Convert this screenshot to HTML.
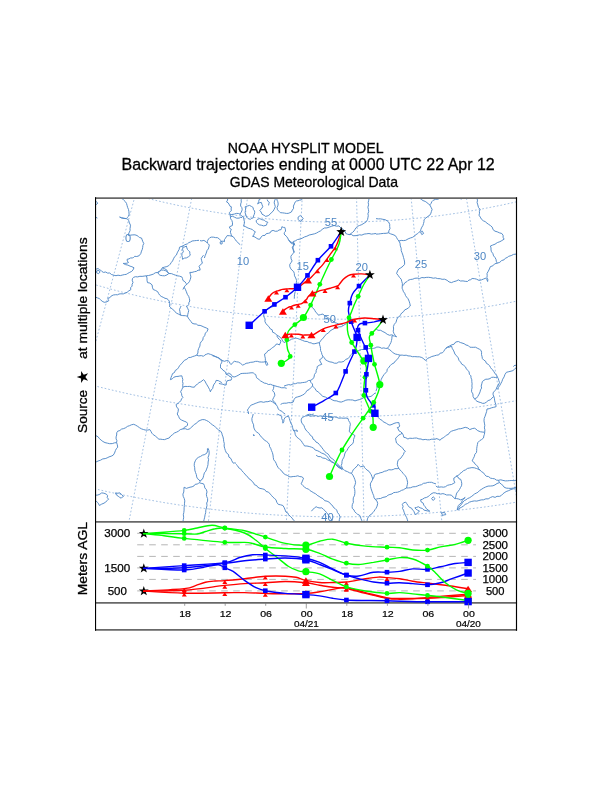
<!DOCTYPE html>
<html><head><meta charset="utf-8"><title>NOAA HYSPLIT MODEL</title>
<style>html,body{margin:0;padding:0;background:#fff}svg{display:block}text{font-family:"Liberation Sans","DejaVu Sans",sans-serif}</style></head><body>
<svg width="612" height="792" viewBox="0 0 612 792">
<rect width="612" height="792" fill="#fff"/>
<g fill="#000" text-anchor="middle" stroke="#000" stroke-width="0.3">
<text x="305.65" y="152.6" font-size="14.6" textLength="155.7" lengthAdjust="spacingAndGlyphs">NOAA HYSPLIT MODEL</text>
<text x="308.15" y="170.3" font-size="16.7" textLength="373.2" lengthAdjust="spacingAndGlyphs">Backward trajectories ending at 0000 UTC 22 Apr 12</text>
<text x="313.9" y="187" font-size="14.3" textLength="168.2" lengthAdjust="spacingAndGlyphs">GDAS Meteorological Data</text>
</g>
<defs><clipPath id="mc"><rect x="96" y="198" width="420.5" height="324"/></clipPath><clipPath id="pc"><rect x="96" y="522.8" width="420.5" height="86"/></clipPath></defs>
<g clip-path="url(#mc)">
<!--MAP-->
<g fill="none" stroke="#6b9bd1" stroke-width="0.62" stroke-dasharray="1.7 2">
<path d="M62.5 81.5L-135.2 540.8"/>
<path d="M109.1 99.7L-55.1 571.9"/>
<path d="M157.0 114.4L26.9 597.2"/>
<path d="M205.8 125.7L110.5 616.6"/>
<path d="M255.2 133.5L195.3 629.9"/>
<path d="M305.1 137.7L280.8 637.1"/>
<path d="M355.2 138.4L366.7 638.2"/>
<path d="M405.2 135.4L452.4 633.2"/>
<path d="M454.8 128.9L537.5 622.0"/>
<path d="M503.9 118.9L621.6 604.8"/>
<path d="M552.1 105.4L704.2 581.7"/>
<path d="M9.0 149.2L19.2 153.8L29.4 158.3L39.8 162.7L50.2 166.9L60.6 170.9L71.1 174.9L81.7 178.6L92.3 182.2L103.0 185.7L113.7 189.0L124.4 192.1L135.2 195.1L146.1 198.0L157.0 200.7L167.9 203.2L178.9 205.6L189.9 207.8L200.9 209.8L211.9 211.7L223.0 213.5L234.1 215.0L245.2 216.5L256.4 217.7L267.5 218.8L278.7 219.8L289.9 220.6L301.1 221.2L312.3 221.7L323.5 222.0L334.7 222.1L345.9 222.1L357.1 221.9L368.3 221.6L379.5 221.1L390.7 220.4L401.9 219.6L413.1 218.6L424.2 217.5L435.4 216.2L446.5 214.7L457.6 213.1L468.7 211.3L479.7 209.4L490.7 207.3L501.7 205.1L512.6 202.7L523.6 200.1L534.4 197.4L545.3 194.5L556.1 191.5L566.8 188.3L577.5 185.0L588.2 181.5L598.8 177.9L609.3 174.1L619.8 170.1L630.3 166.0"/>
<path d="M-32.0 237.2L-20.5 242.5L-9.0 247.5L2.7 252.4L14.3 257.2L26.1 261.7L37.9 266.1L49.8 270.3L61.7 274.4L73.7 278.3L85.7 282.0L97.8 285.5L110.0 288.9L122.2 292.1L134.4 295.1L146.7 298.0L159.0 300.6L171.3 303.1L183.7 305.4L196.2 307.6L208.6 309.5L221.1 311.3L233.6 312.9L246.1 314.3L258.6 315.6L271.2 316.6L283.8 317.5L296.4 318.2L308.9 318.7L321.5 319.1L334.1 319.2L346.7 319.2L359.3 319.0L371.9 318.6L384.5 318.1L397.1 317.3L409.7 316.4L422.2 315.3L434.8 314.0L447.3 312.6L459.8 310.9L472.3 309.1L484.7 307.1L497.1 305.0L509.5 302.6L521.8 300.1L534.2 297.4L546.4 294.5L558.6 291.5L570.8 288.2L583.0 284.8L595.0 281.3L607.1 277.5L619.1 273.6L631.0 269.5L642.8 265.2L654.6 260.8L666.4 256.2"/>
<path d="M-73.1 325.7L-60.3 331.5L-47.5 337.2L-34.6 342.6L-21.6 347.9L-8.6 352.9L4.5 357.8L17.7 362.5L31.0 367.0L44.3 371.3L57.7 375.4L71.1 379.4L84.6 383.1L98.1 386.7L111.7 390.0L125.4 393.2L139.0 396.1L152.8 398.9L166.5 401.5L180.3 403.8L194.1 406.0L208.0 408.0L221.9 409.8L235.8 411.3L249.7 412.7L263.7 413.9L277.6 414.9L291.6 415.7L305.6 416.2L319.6 416.6L333.6 416.8L347.6 416.8L361.6 416.6L375.6 416.1L389.6 415.5L403.5 414.7L417.5 413.7L431.4 412.5L445.4 411.0L459.3 409.4L473.2 407.6L487.0 405.6L500.8 403.4L514.6 401.0L528.4 398.3L542.1 395.5L555.8 392.5L569.4 389.3L583.0 386.0L596.5 382.4L610.0 378.6L623.4 374.6L636.8 370.5L650.1 366.1L663.3 361.6L676.5 356.8L689.6 351.9L702.6 346.8"/>
<path d="M-115.2 416.5L-101.2 422.9L-87.1 429.1L-72.8 435.1L-58.5 440.8L-44.2 446.4L-29.7 451.8L-15.2 457.0L-0.6 462.0L14.1 466.7L28.9 471.3L43.7 475.6L58.5 479.7L73.5 483.6L88.5 487.3L103.5 490.8L118.6 494.1L133.7 497.1L148.9 499.9L164.1 502.6L179.3 505.0L194.6 507.1L209.9 509.1L225.2 510.8L240.6 512.4L256.0 513.7L271.3 514.7L286.8 515.6L302.2 516.2L317.6 516.7L333.0 516.8L348.5 516.8L363.9 516.6L379.3 516.1L394.7 515.4L410.1 514.5L425.5 513.4L440.9 512.1L456.2 510.5L471.6 508.7L486.9 506.7L502.1 504.5L517.4 502.0L532.6 499.4L547.7 496.5L562.8 493.4L577.9 490.1L592.9 486.6L607.9 482.8L622.8 478.9L637.7 474.7L652.5 470.3L667.2 465.8L681.9 461.0L696.5 455.9L711.0 450.7L725.4 445.3L739.8 439.7"/>
</g>
<g fill="none" stroke="#5189c7" stroke-width="0.95" stroke-linejoin="round">
<path d="M121.6 198.0L122.8 199.1L123.9 200.3L125.4 201.7L126.5 203.4L127.1 205.5L127.6 207.4L128.5 209.5L128.9 211.7L129.1 214.2L128.5 216.3L127.2 217.6L126.2 218.6L124.0 218.5L121.5 217.8L119.6 217.0L121.6 217.9L123.9 218.2L126.2 218.6L127.6 219.1L128.7 220.6L129.4 222.9L130.5 225.2L130.3 226.9L130.0 228.6L130.1 230.5L129.0 232.9L128.0 235.1L129.3 235.5L130.8 235.1L132.8 234.9L134.9 234.8L137.0 235.5L138.5 236.6L139.7 237.6L141.5 238.0L142.2 239.9L142.9 241.8L143.8 243.5L142.9 245.4L142.7 247.4L142.3 249.3L141.5 251.1L140.8 253.5L139.2 255.7L136.8 256.5L134.7 256.3L133.7 257.4L132.4 257.9L130.4 258.0L129.0 258.9L127.1 259.3L127.3 261.0L128.5 262.5L126.9 263.2L124.9 263.4L123.2 263.4L125.5 264.6L127.9 265.1L130.1 266.2L131.9 266.7L134.0 267.8L133.0 269.9L131.7 271.4L129.8 272.3L127.8 273.4L126.2 274.4L124.3 274.6L122.2 275.1L120.3 275.6L118.0 275.2L116.0 275.7L114.1 275.3L111.5 274.5L109.7 273.0L107.6 273.1L105.7 272.0L103.5 272.4L101.8 271.4L100.6 270.1L99.3 269.8L98.3 268.5L96.0 269.2"/>
<path d="M96.7 270.8L99.0 270.5L100.1 272.1L98.3 273.7L96.5 272.6L96.7 270.8"/>
<path d="M96.0 201.4L97.8 203.0L96.0 204.9"/>
<path d="M96.0 217.4L97.4 218.1"/>
<path d="M96.0 297.3L97.5 297.9L99.2 298.5L100.6 299.8L102.1 301.2L104.2 302.3L106.7 301.9L108.8 300.7L108.2 299.5L107.9 298.2L109.9 297.7L111.1 296.1L113.3 295.0L115.7 294.7L117.5 294.8L119.0 294.0L120.9 293.8L123.3 293.9L125.2 293.0L127.1 292.3L128.9 290.8L130.8 289.7L130.6 287.7L132.1 286.1L132.1 284.3L133.0 282.5L132.2 280.2L132.6 278.3L133.7 277.3L135.4 276.7L137.7 276.9L139.9 276.3L142.1 276.4L144.1 276.1L146.3 275.8L148.6 275.5L151.0 274.9L153.4 274.1L155.2 272.8L157.8 272.4L159.4 271.2L161.3 269.6L162.3 267.8L164.5 267.1L166.9 266.6L168.8 265.6L170.1 264.3L171.3 262.5L172.6 260.9L173.5 258.8L174.7 256.6L176.4 255.1L177.2 252.9L178.2 251.0L179.2 249.3L179.5 247.2L181.0 246.6L182.9 246.0L184.9 244.7L187.5 243.8L188.8 242.6L190.5 242.0L192.1 241.0L194.5 240.7L196.6 240.5L199.0 240.3"/>
<path d="M182.9 247.2L184.8 246.9L186.4 246.0L186.8 247.8L187.5 249.5L188.6 250.7L189.8 251.8L189.8 253.5L190.3 255.2L188.5 256.7L186.4 257.9L184.5 258.1L182.5 259.3L182.4 257.4L181.8 255.2L182.1 253.3L183.4 251.8L182.6 249.4L182.9 247.2"/>
<path d="M157.8 272.4L159.7 271.5L161.2 270.1L163.6 270.1L165.8 270.8L167.7 272.0L168.8 273.5L167.0 274.9L164.6 275.8L162.5 275.7L160.1 275.3L158.6 274.1L157.8 272.4"/>
<path d="M162.3 267.8L164.6 268.7L166.9 270.1L167.4 271.9L168.8 273.5"/>
<path d="M203.5 255.2L202.2 256.9L201.2 258.6L201.7 260.8L202.4 263.2L200.4 264.7L199.0 266.6L199.8 268.0L200.1 270.1L198.0 270.2L196.5 271.3L194.4 271.7L192.0 272.4L189.8 272.4L190.4 274.5L190.9 276.9L190.3 279.4L189.3 281.8L187.5 283.8L185.4 285.4L184.1 287.2L182.9 289.5"/>
<path d="M168.8 273.5L171.5 273.6L173.8 274.6L175.6 275.2L177.2 275.8L179.4 276.1L181.8 276.9L182.5 278.4L182.9 280.4L184.9 281.7L186.4 283.8"/>
<path d="M146.3 275.8L147.0 278.0L147.0 280.3L147.5 282.6L149.9 283.1L152.1 284.9L152.4 287.2L153.2 289.5L155.7 290.5L157.8 291.8L158.6 293.5L159.7 295.1L161.2 296.4L163.2 297.3L165.0 298.3L166.9 298.7L168.1 299.6L169.2 301.0L169.7 303.5L169.7 306.0"/>
<path d="M184.1 287.2L185.3 289.2L186.4 291.8L187.3 294.3L188.7 296.4L189.4 298.5L189.8 301.0L188.9 302.6L188.7 304.6L187.5 306.0"/>
<path d="M293.2 241.5L295.3 240.9L297.5 239.5L299.8 239.2L302.2 238.2L304.6 236.9L306.9 236.2L309.2 235.0L312.0 234.4L314.5 233.8L316.6 233.0L318.6 231.8L320.5 230.9L322.2 229.4L324.3 228.0L326.9 227.9L329.2 227.1L331.8 226.2L334.1 225.5L336.5 226.2L339.0 225.9L339.9 227.0L341.0 228.0L342.4 228.5L343.5 230.0L345.2 231.5L345.8 233.5L347.5 234.2L349.2 234.6L350.8 233.6L352.7 232.3L354.0 231.0L354.9 229.5L356.1 227.7L357.5 226.3L359.5 225.5L361.8 224.6L364.1 223.2L366.2 221.8L367.5 219.7L367.9 217.8L368.3 215.6L367.9 213.8L368.7 211.7L368.4 209.3L367.9 207.2L368.6 204.8L368.2 202.6L368.7 200.3L369.2 198.0"/>
<path d="M349.2 234.6L351.4 234.5L353.1 235.7L355.0 235.7L357.4 235.5L359.4 234.8L361.8 235.1L364.1 234.1L366.5 233.8L369.0 233.5L371.4 234.1L373.7 233.8L376.0 233.5"/>
<path d="M293.2 241.5L294.3 243.8L293.6 245.8L292.1 247.2L293.2 249.3L294.3 251.8L293.5 253.2L292.0 254.5L290.9 256.3L291.1 258.9L292.1 260.9L291.0 262.7L289.8 264.3L289.8 266.7L290.9 268.9L292.0 270.2L293.7 271.6L294.3 273.5L294.5 275.8L295.7 278.0L296.6 280.4L296.3 282.8L296.6 284.9L296.1 287.4L295.5 289.5L295.2 291.6L294.6 294.2L294.4 296.2L294.3 298.7"/>
<path d="M242.2 198.0L241.1 199.8L241.3 202.1L240.7 203.9L240.6 206.0L241.9 207.7L242.2 209.8L241.3 212.0L240.0 214.2L241.5 215.9L243.6 217.1L243.8 219.4L244.4 221.5L244.3 223.6L243.6 225.9L245.8 226.8L248.1 228.1L250.4 228.8L252.5 229.6L253.7 230.9L255.4 231.8L254.4 233.2L253.8 235.2L252.5 236.2L254.9 237.0L256.9 238.4L258.1 239.1L259.8 239.2L261.0 237.1L262.8 235.5L265.0 235.4L266.3 233.6L268.6 233.3L270.3 232.7L271.2 231.0L273.1 230.4L275.3 231.3L277.5 231.1L279.0 230.0L281.1 229.6L281.6 228.3L281.9 226.7L283.4 227.4L284.8 227.4L285.3 229.1L285.6 231.1L284.4 232.6L284.1 234.0L285.0 235.1L286.3 236.2L287.7 238.0L288.5 239.9L289.7 240.7L290.7 242.1L292.1 242.5L293.6 242.9"/>
<path d="M245.1 206.8L247.2 206.1L249.5 205.4L251.6 206.5L253.2 207.6L253.3 209.3L254.6 211.0L254.7 212.7L254.2 214.5L253.5 216.0L253.2 217.9L251.8 218.3L250.3 219.3L248.1 218.6L246.6 217.1L245.9 215.0L245.1 212.7L245.4 210.6L245.6 208.9L245.1 206.8"/>
<path d="M261.3 198.0L260.2 199.1L259.1 199.5L258.7 201.7L257.6 203.9L259.2 202.8L261.3 202.4L262.0 204.5L262.8 206.8L261.3 208.9L259.8 210.5L261.1 212.0L262.0 214.2L264.1 215.3L265.7 216.4L268.2 215.7L270.1 214.2L271.3 212.7L273.1 211.2L274.2 209.2L275.3 206.8L274.8 204.8L274.2 202.9L274.5 200.9L275.3 199.2L276.0 198.0"/>
<path d="M267.2 199.5L267.8 201.2L269.4 202.4L268.8 203.8L268.6 205.4"/>
<path d="M256.1 220.8L257.7 219.2L259.8 218.6L261.8 219.7L264.2 220.1L265.7 221.5L267.9 222.3L267.0 223.4L266.4 225.2L263.7 225.9L261.3 225.2L259.5 224.9L257.6 223.7L256.6 222.5L256.1 220.8"/>
<path d="M276.7 198.0L277.0 200.1L277.8 201.7L278.2 203.9L277.8 205.9L277.0 207.6L277.5 209.8L279.1 211.4L280.4 212.7L282.3 212.8L284.5 213.1L286.3 213.4L288.2 213.4L289.9 212.7L291.4 212.0L292.3 210.1L293.6 208.3L293.4 206.1L294.4 203.9L295.1 202.1L296.6 200.9L298.0 200.8L299.5 200.2L301.4 199.8L302.5 198.7L303.7 197.9L305.4 198.0"/>
<path d="M298.1 217.1L299.3 216.3L300.3 215.4L301.9 217.0L303.2 218.6L302.0 220.0L301.0 221.5L299.4 220.7L298.1 219.3L298.1 217.1"/>
<path d="M288.5 239.9L289.9 241.9L291.4 243.6L293.3 243.9L295.1 245.1L294.2 244.2L293.6 242.9"/>
<path d="M293.6 242.9L293.4 245.7L292.9 248.0L293.3 250.3L293.9 252.4"/>
<path d="M240.0 214.2L238.4 213.5L236.3 213.4L234.2 214.1L231.9 214.5L229.7 214.9"/>
<path d="M200.0 240.6L201.8 240.9L203.9 240.4L205.9 241.6L207.4 243.1L208.5 244.0L209.3 245.1L208.9 246.9L208.3 249.0L207.1 250.3L206.6 252.0L205.9 253.9L205.1 255.8L204.4 258.0"/>
<path d="M207.4 243.1L207.3 241.5L207.8 240.2L208.7 238.8L209.8 237.7L211.5 237.1L213.7 237.2L215.5 237.6L217.6 237.7L219.6 239.2L220.7 240.3L221.1 241.6L223.0 241.1L224.5 241.6L224.4 239.7L225.5 238.2L226.3 236.8L227.0 235.7L229.4 235.7L231.9 236.2L233.4 236.9L234.3 238.2L235.4 239.7L236.3 241.1L237.7 242.2L238.7 243.6L240.2 244.6"/>
<path d="M231.9 236.2L231.2 234.5L230.4 232.3L230.6 230.9L231.4 229.4L229.9 228.5L229.4 226.9L231.0 226.1L232.4 225.5L232.5 222.8L231.9 220.5L230.6 218.8L230.4 216.6L230.2 214.6L229.4 212.7L230.3 211.5L231.4 210.7L231.1 209.0L231.4 206.8L230.1 206.3L229.4 204.9L228.2 202.9L226.5 201.9L227.6 200.1L227.5 198.0"/>
<path d="M220.1 242.1L221.1 241.6L222.4 242.6L221.8 244.1L220.4 243.9L220.1 242.1"/>
<path d="M230.4 216.6L232.6 216.3L234.3 217.1L236.7 218.2L239.2 218.1L240.7 217.4L242.2 217.6"/>
<path d="M376.0 218.6L378.4 218.9L380.5 218.8L382.8 219.3L385.2 219.7L387.1 220.8L388.6 222.0L389.7 224.3L389.7 226.6L390.0 228.6L388.9 230.7L388.6 232.8L386.1 233.3L383.6 233.4L380.8 233.7L378.4 234.0L376.0 234.1"/>
<path d="M388.6 232.8L390.7 233.9L393.0 234.6L395.4 235.7L396.5 237.4L397.5 239.3L398.9 241.0"/>
<path d="M398.9 241.0L401.2 240.4L403.3 240.6L405.7 240.3L408.1 238.9L410.3 238.0L412.6 237.3L414.2 236.2L416.0 234.6L417.7 233.6L419.0 232.2L420.6 231.2L420.9 229.2L421.9 227.1L422.9 225.5L423.5 223.6L424.0 221.6L424.0 219.7L425.9 218.0L427.5 216.6L429.8 215.2L430.9 213.2L431.4 211.5L432.1 209.4L431.0 207.2L429.8 204.9L431.0 203.5L431.9 201.6L433.2 200.3L435.6 199.3L438.0 199.2L440.1 198.0"/>
<path d="M419.5 198.0L421.2 199.3L423.0 200.6L425.2 201.4L426.9 202.6L428.2 203.7L429.8 204.9"/>
<path d="M420.6 232.3L422.4 231.2L423.6 233.5L421.8 234.6L420.6 232.3"/>
<path d="M398.9 241.0L400.0 243.1L400.3 245.9L401.2 248.3L401.2 250.6L402.0 252.7L402.9 255.1L403.5 257.5L404.2 259.8L404.6 262.0L404.6 264.3L403.1 266.1L400.9 267.8L398.9 268.9L397.5 271.0L396.6 273.5L398.1 275.3L399.5 277.4L401.2 279.2L401.8 281.6L402.4 283.6L402.3 286.1"/>
<path d="M402.3 286.1L403.7 284.6L404.9 282.7L406.8 281.7L408.0 280.4L410.3 279.5L412.8 279.2L414.8 278.3L417.2 278.1L419.6 278.5L421.9 277.5L424.1 277.8L426.2 277.4L428.5 277.3L430.9 277.6L433.3 278.2L435.5 277.9L437.7 278.6L440.2 278.7L442.1 279.3L444.6 279.2L447.1 280.3L449.0 281.9L451.5 282.6L453.6 281.7L456.2 281.0L458.4 279.9L460.5 281.0L463.0 280.9L465.2 281.3L467.5 281.5L468.9 280.1L470.7 279.7L472.1 278.5L474.7 278.7L476.6 279.2L479.0 280.4L481.4 279.9L483.4 279.1L485.8 278.1L487.0 279.8L487.6 281.5"/>
<path d="M402.3 286.1L402.1 288.2L402.8 289.8L403.5 291.8L404.7 293.2L405.5 295.5L406.6 297.1L408.0 298.7L409.1 301.1L409.8 303.4L410.3 306.0"/>
<path d="M476.7 198.0L477.5 200.1L477.1 202.5L477.8 204.9L478.5 207.5L480.1 209.4L479.4 211.3L479.5 213.2L479.0 215.2L480.3 217.1L481.5 219.3L483.5 220.9L485.2 221.6L487.0 223.2L488.7 224.4L490.4 225.5L492.2 227.1L493.1 229.7L495.0 231.2L497.2 231.8L499.4 232.8L501.8 233.5L503.1 235.3L503.1 237.3L504.1 239.2L501.8 240.6L499.9 241.7L497.3 242.6L495.0 244.2L492.6 245.1L490.4 246.0L491.0 247.9L491.0 250.0L491.5 251.8L492.8 253.4L493.6 255.9L495.0 257.5L496.0 259.4L496.3 261.3L497.3 263.2L494.7 263.8L492.9 265.8L490.4 266.6L489.4 269.0L488.3 271.2L487.0 273.5L487.2 275.7L486.9 277.7L487.9 279.7L487.6 281.5"/>
<path d="M497.3 263.2L499.8 262.3L501.7 260.5L504.1 259.8L505.4 258.2L507.2 257.5L508.7 256.3L511.2 255.6L513.5 254.4L516.0 254.1"/>
<path d="M459.5 198.0L461.1 199.1L462.9 198.0"/>
<path d="M169.2 306.0L170.6 307.6L172.1 308.9L173.8 310.2L174.9 311.7L176.8 313.3L178.7 314.2L180.6 315.2L180.1 313.1L179.9 311.4L179.5 309.4L180.3 307.7L181.1 306.0"/>
<path d="M186.4 306.0L187.6 308.2L188.7 310.6L188.3 312.3L187.8 314.3L187.5 316.3L185.4 315.7L182.8 315.6L180.6 315.2"/>
<path d="M187.5 316.3L188.3 318.1L189.7 319.9L191.0 321.6L192.1 323.2L194.0 323.9L196.3 324.0L197.9 325.3L200.1 325.4L202.0 326.1L203.9 327.0L206.2 327.9L208.1 328.9L207.1 331.4L205.4 333.1L204.7 335.7L203.2 337.5L202.8 340.1L201.1 341.7L200.1 343.7L199.9 346.1L198.7 348.4L198.0 350.6L197.9 353.0L196.7 355.2"/>
<path d="M196.7 355.2L198.8 355.9L201.3 355.6L203.5 356.3L204.9 354.9L206.4 354.3L208.1 353.6L210.5 354.4L212.7 355.2L215.2 356.3L217.3 357.5L219.3 358.2L220.3 359.9L222.3 360.4"/>
<path d="M221.8 382.6L219.8 381.5L218.3 380.6L216.1 380.4L215.5 382.4L214.1 384.1L213.2 386.1L212.7 388.4L211.2 390.0L210.4 391.8L209.6 389.5L208.3 387.1L207.0 384.9L205.9 383.1L205.0 381.1L203.5 379.7L202.0 380.9L200.7 381.9L199.0 382.6L197.4 384.2L195.4 385.5L194.4 387.2L192.1 387.1L189.8 386.4L187.5 386.5L185.0 386.4L182.9 387.2L182.7 385.3L183.0 383.3L182.5 381.5L182.8 379.5L182.3 377.7L181.8 375.8L179.8 376.0L178.0 376.4L176.1 376.5L173.9 377.2L172.3 378.8L170.4 379.7L171.0 377.5L171.8 375.6L172.6 373.5L174.5 372.5L175.3 370.4L177.1 369.4L178.4 367.8L179.6 365.7L181.3 363.9L182.9 362.1L184.4 360.3L186.9 359.2L188.7 357.5L190.8 357.4L192.8 356.5L194.6 356.0L196.7 355.2"/>
<path d="M182.9 387.2L181.9 389.4L180.6 391.8L181.6 393.7L181.8 395.7L182.9 397.5L181.6 398.8L180.8 400.7L179.5 402.1L177.9 403.5L176.1 404.4L176.6 406.9L178.4 409.0L178.1 411.7L177.2 414.0"/>
<path d="M263.5 315.2L264.1 317.2L265.1 319.0L264.9 321.3L265.7 323.2L267.2 325.1L268.9 326.6L270.3 328.9L272.2 329.8L272.6 332.2L274.7 333.0L276.0 334.6L278.2 335.8L280.3 337.3L281.8 339.2L282.7 340.9L284.0 342.6"/>
<path d="M263.5 315.2L264.6 312.9L265.3 310.6L267.1 310.0L268.6 308.3L270.3 307.1L272.4 306.8L274.2 306.0L276.0 306.0"/>
<path d="M311.5 306.0L312.3 307.6L313.9 308.9L314.9 310.6L315.8 312.3L317.4 313.6L318.4 315.2L320.6 314.6L322.9 314.0L324.3 315.6L325.9 316.3L327.5 317.4L329.4 318.7L331.3 320.0L332.9 320.9L334.6 322.5L336.7 323.2L339.1 324.2L341.1 324.4L343.5 325.4L345.0 324.4L346.6 323.6L348.1 322.0L350.2 320.6L351.5 318.6"/>
<path d="M284.0 342.6L286.0 341.7L288.1 341.2L289.8 340.3L291.5 339.2L293.6 338.7L295.5 338.0L297.9 338.6L300.0 339.4L302.3 340.3L304.7 341.3L307.2 341.5L309.2 342.6L311.2 342.9L312.9 343.8L314.9 343.7L317.1 343.1L319.5 342.6"/>
<path d="M319.5 342.6L320.8 340.4L322.6 338.8L324.1 336.9L325.1 335.4L326.7 334.0L328.5 332.9L329.8 331.2L332.0 329.7L334.3 328.6L336.7 327.7L339.0 326.9L341.3 326.7L343.5 325.4"/>
<path d="M319.5 342.6L319.6 344.8L320.2 346.5L320.5 348.4L320.6 350.6L321.5 352.5L321.9 354.4L322.9 356.3L324.3 357.8L325.5 359.8L327.5 360.9L329.9 361.9L332.1 362.2L334.4 363.2L336.9 363.2L338.8 361.9L341.2 362.1L343.9 361.4L345.7 359.4L348.1 358.6L349.6 356.8L350.4 355.2L351.8 353.9L353.5 353.1L355.0 351.8L357.2 351.4L359.3 350.3L361.6 349.5L364.1 349.5L366.3 349.4L368.6 348.6L371.4 348.2L373.6 348.4L376.0 347.6"/>
<path d="M322.9 356.3L321.7 358.5L319.5 359.8L320.5 362.1L321.8 364.3L319.3 365.2L317.2 366.6L317.1 368.4L316.2 370.3L316.1 372.3L314.5 374.4L314.0 377.2L312.6 379.2L310.4 380.4"/>
<path d="M284.0 386.1L286.2 385.3L288.7 384.6L290.9 385.0L293.2 383.8L295.4 383.7L297.6 382.9L300.2 383.0L302.3 382.6L304.3 382.4L306.3 382.0L308.5 380.5L310.4 380.4"/>
<path d="M310.4 380.4L310.7 382.2L312.5 384.0L312.6 386.1L314.0 387.6L315.2 388.8L316.1 390.6L318.1 391.9L319.6 393.1L321.1 394.9L322.9 396.4L325.4 397.0L327.4 398.3L330.1 398.5L332.1 399.8L334.1 400.7L336.8 400.9L338.8 401.7L341.2 402.1L343.7 401.2L345.8 400.2L348.1 399.8L350.4 399.9L352.8 400.0L355.0 400.9L357.1 400.2L359.8 399.5L361.9 398.7L364.1 397.5L366.5 396.8L368.7 396.8L371.0 396.4L372.5 395.4L374.0 393.7L376.0 392.9"/>
<path d="M273.7 384.9L273.8 386.7L273.5 388.7L272.6 390.6L274.3 392.7L274.9 395.2L273.8 397.3L272.6 399.8L273.5 401.4L275.2 402.6L276.0 404.4"/>
<path d="M312.6 386.1L310.7 387.7L309.1 389.6L306.9 390.6L305.7 392.5L304.3 394.1L302.3 395.2L300.1 396.2L297.7 396.9L295.5 397.5L294.0 399.6L293.2 402.1L290.9 402.8L288.7 402.6L286.3 403.2L284.2 403.2L282.6 403.4L280.6 404.4"/>
<path d="M253.2 404.4L255.1 403.5L256.8 402.9L258.9 402.1L261.0 401.7L263.6 402.3L265.9 401.7L267.9 401.7L270.3 400.9L272.4 401.8L274.3 403.3L276.0 404.4L277.4 406.5L278.3 409.0L279.7 410.4L281.8 411.2L283.2 412.8L285.2 414.0"/>
<path d="M253.2 404.4L251.2 405.0L249.7 406.7L248.6 408.3L247.4 410.1L248.3 411.8L248.6 414.0"/>
<path d="M222.1 360.5L224.6 361.3L226.1 360.7L227.9 360.5L229.3 361.7L230.0 363.4L231.1 364.6L232.6 362.7L234.4 361.3L236.5 361.8L238.5 362.1L240.5 363.3L242.6 365.1L244.4 364.4L246.1 363.3L248.3 363.0L250.7 362.3L253.2 362.1L255.4 361.4L257.3 361.3L259.1 361.9L261.4 362.1L263.9 362.0L266.3 361.3L267.2 363.0L267.9 364.6L266.6 365.4L265.5 363.2L265.4 360.5L265.3 358.2L264.8 356.2L264.6 354.0L266.7 352.6L267.9 350.7L269.8 349.9L271.3 348.6L272.8 347.4L274.6 346.3L276.1 344.2L277.9 344.1L279.3 345.0L280.3 343.0L281.0 340.9L279.4 339.5L277.7 337.6L276.9 336.0"/>
<path d="M212.3 355.6L214.7 356.5L217.2 357.2L219.0 358.2L220.6 359.3L222.1 360.5L221.6 362.8L220.5 364.6L220.5 366.1L220.5 367.9L221.9 368.8L223.0 370.3L224.6 371.1L225.7 372.8L226.2 374.4"/>
<path d="M226.2 374.4L227.6 374.0L228.7 372.8L229.5 373.8L231.1 374.4L231.9 375.8L232.8 376.8L234.9 376.9L236.8 376.0L238.9 374.9L240.9 373.6L242.8 373.4L244.9 373.3L246.7 373.3L248.7 373.1L251.0 372.8L253.2 372.8L254.4 373.9L255.6 374.4L256.2 376.2L256.5 377.7L257.9 378.7L259.3 379.8L260.5 380.9L262.3 381.9L264.3 383.1L266.3 383.4L268.4 384.5L270.6 384.3L272.8 385.3L274.8 385.8L277.2 386.5L279.3 387.0L281.7 387.8L284.4 387.7L286.7 388.3"/>
<path d="M218.9 383.4L220.7 383.9L223.0 384.2L224.5 385.0L226.2 385.0L226.3 382.9L227.0 380.9L229.1 380.3L231.1 380.1L231.7 378.4L231.1 376.8L229.5 376.5L228.7 375.2L226.2 374.4"/>
<path d="M410.3 306.0L408.7 307.6L407.0 308.9L404.8 309.8L403.5 311.7L401.7 313.0L400.6 314.6L399.6 316.4L397.7 317.4L396.7 319.8L396.0 322.3L394.3 324.3L393.4 326.6L393.6 329.1L393.2 331.2L393.9 333.4L395.1 335.2L396.6 336.9L394.4 336.0L392.0 335.7L391.9 338.2L391.5 340.5L390.9 342.6L389.9 344.4L388.8 346.5L387.4 348.3"/>
<path d="M376.0 328.9L378.0 330.3L380.7 330.3L382.9 331.6L385.0 332.6L387.2 334.3L389.7 335.3L391.4 334.8L393.2 335.3"/>
<path d="M376.0 347.2L378.1 347.0L380.0 347.4L381.7 348.3L383.8 347.9L385.7 348.4L387.4 348.3"/>
<path d="M387.4 348.3L389.5 349.6L391.5 351.2L393.2 352.9L395.3 354.0L397.6 354.5L400.0 355.2L402.2 355.1L403.9 355.4L406.2 355.2L408.0 355.9L410.3 356.0L412.5 356.7L414.8 356.6L417.2 356.8L419.4 356.8L421.8 357.5L423.7 358.7L425.2 360.4L426.7 359.5L427.9 358.2L429.8 357.5L431.8 356.5L434.2 355.9L436.6 355.2L438.8 354.9L440.2 353.1L442.3 352.9L443.7 351.4L444.6 349.9L445.8 348.3L447.7 346.9L449.5 346.0L451.5 344.9L454.1 344.2L455.7 342.0L458.4 341.5"/>
<path d="M400.0 355.2L398.7 357.3L397.3 359.4L395.4 360.9L394.1 362.9L391.7 364.1L390.1 365.7L388.6 367.8L387.2 369.2L386.9 371.5L385.5 373.0L384.0 374.6L382.5 376.9L381.3 379.2L380.6 381.5L379.6 383.2L378.3 384.9L377.1 386.1L376.8 388.7L376.0 391.1"/>
<path d="M458.4 341.5L460.3 342.5L462.0 343.0L464.1 343.7L466.0 345.0L468.2 345.5L469.8 347.2L471.8 347.3L473.8 347.3L475.5 347.2L477.3 348.2L479.4 349.2L481.2 350.6L481.6 352.7L481.5 354.5L482.1 356.8L482.4 358.6L483.8 360.1L485.5 361.1L486.4 363.3L488.1 364.3L489.6 365.7L490.5 367.5L491.5 368.9L492.9 370.1L493.9 371.7L495.0 373.5L496.5 375.0L497.3 376.9L495.3 377.5L493.3 377.2L491.5 377.4L490.0 378.6L487.9 379.2L485.8 379.2L483.9 380.3L482.4 381.5L481.8 383.8L481.2 386.1L481.6 388.1L480.5 389.9L480.1 391.8L479.1 394.1L477.8 396.4L476.5 398.1L474.4 398.7"/>
<path d="M445.8 348.3L447.5 347.4L449.9 347.0L451.5 346.0L452.2 348.3L453.3 350.1L454.2 352.0L454.9 354.0L456.6 355.9L458.2 357.8L459.0 360.4L460.6 362.1L461.7 364.1L463.7 365.3L465.4 366.8L466.4 368.9L467.8 370.4L469.1 371.9L469.4 374.3L470.9 375.8L471.0 377.8L471.8 379.8L471.8 381.7L472.1 383.8L471.9 385.9L472.1 387.8L471.6 389.7L471.6 391.8L472.9 393.9L473.1 396.7L474.4 398.7L475.8 400.3L477.0 401.3L479.0 402.1L480.8 402.6L482.7 403.4L484.7 403.2L486.4 402.1L488.1 400.6L490.4 399.8L491.9 398.1L493.8 396.4L494.4 398.2L494.6 400.1L495.0 402.1L495.8 404.4L496.1 406.7L493.7 407.3L491.5 407.8L489.2 408.7L487.0 409.0L486.6 411.6L485.8 414.0"/>
<path d="M497.3 376.9L498.3 378.6L498.8 380.6L499.5 382.6L498.3 385.0L496.9 387.1L496.1 389.5L494.3 391.2L493.1 392.9L493.1 394.8L493.8 396.4"/>
<path d="M497.3 389.5L498.2 387.7L499.7 385.6L500.7 383.8L501.9 381.5L502.7 379.2L504.1 376.9L504.9 374.6L506.4 372.3L508.8 371.7L511.0 371.2L512.9 370.6L514.4 369.3L516.0 367.8"/>
<path d="M513.3 366.6L515.1 365.0L516.0 365.9"/>
<path d="M177.2 414.0L178.6 416.3L179.5 418.6L181.5 420.0L184.1 421.2L186.4 422.0L187.5 423.4L187.5 425.4L186.1 426.4L184.3 427.3L182.9 428.9"/>
<path d="M96.0 462.0L98.1 461.0L100.5 460.2L102.8 458.9L105.2 458.6L107.1 457.9L109.0 456.9L111.2 456.2L113.2 455.2L114.5 453.1L115.4 450.6L116.3 448.8L117.7 447.2L117.3 444.7L116.6 442.6L116.9 440.6L116.1 438.9L116.1 436.9L116.7 435.0L116.7 432.8L117.7 431.2L119.9 430.5L121.5 429.1L123.7 428.6L125.7 427.7L127.6 426.3L129.5 425.7L131.4 424.8L133.7 424.3L135.7 425.2L137.7 426.4L139.5 427.7L141.4 428.8L143.4 429.5L145.2 430.0L147.6 430.1L149.8 429.6L150.9 431.3L151.9 433.2L153.2 434.6L155.3 436.0L157.1 437.6L158.9 439.2L160.8 439.2L162.7 439.5L164.6 439.6L166.9 438.7L169.2 438.0L170.7 436.0L172.6 434.6L174.4 433.0L176.5 432.2L178.4 431.2L180.3 429.6L182.9 428.9L185.3 428.7L187.4 429.5L189.8 428.9L191.2 427.3L193.1 425.8L194.4 424.3L196.4 423.4L197.9 421.5L200.1 420.4L202.2 419.6L204.7 419.7L206.7 420.6L208.6 421.6L210.4 423.2L212.4 424.8L214.5 426.1L216.1 427.7L217.4 429.1L218.8 430.2L220.7 431.2L221.8 433.1L222.2 434.9L223.0 436.9L223.5 439.2L223.7 441.4L224.3 443.5L224.1 446.0L224.7 448.4L225.4 450.6L226.4 452.9L228.5 454.5L228.9 457.1L231.0 458.6L231.8 460.8L233.3 463.2L234.5 462.9L236.0 463.2"/>
<path d="M96.0 435.7L98.1 436.8L99.4 438.6L101.1 440.1L102.9 441.5L105.0 442.6L107.5 443.2L109.7 443.7L112.3 443.6L114.3 442.9L116.6 442.6"/>
<path d="M208.1 448.3L208.9 450.5L209.2 452.9L208.9 455.1L208.0 457.5L208.6 459.7L208.1 462.0L208.0 464.5L207.5 466.7L206.6 469.1L205.8 471.2L204.4 472.8L203.7 475.3L203.3 477.1L202.4 479.2L201.0 480.0L200.1 481.5L199.1 479.8L197.5 478.7L196.7 476.9L196.3 474.5L195.5 472.5L194.8 470.1L194.7 467.7L194.2 465.4L194.4 463.2L195.3 460.8L196.7 458.6L198.7 457.2L200.4 456.5L202.4 455.2L204.8 454.5L207.0 452.9L207.5 450.8L207.4 448.8L208.1 448.3"/>
<path d="M203.5 522.0L204.1 519.5L204.7 517.2L205.1 514.7L205.7 512.7L205.8 510.1L206.4 508.0L207.0 505.4L206.7 503.0L207.6 501.1L207.6 498.6L206.7 496.5L206.4 494.3L207.0 491.9L206.3 489.5L204.8 487.9L204.4 485.6L203.5 483.8L201.1 483.3L199.0 482.6L197.7 484.0L195.2 484.3L194.0 485.9L192.1 486.8L190.0 487.2L188.1 487.8L186.4 488.4L184.1 487.2L183.9 489.4L183.8 492.0L182.9 494.1L183.2 496.3L184.2 498.4L184.8 500.9L184.5 503.2L184.4 505.6L184.1 507.8L184.1 510.1L183.8 512.6L183.3 514.8L183.7 517.2L183.3 519.5L182.9 522.0"/>
<path d="M96.0 495.2L97.9 495.0L99.9 494.2L101.7 492.9L103.9 493.2L106.3 494.1L107.6 495.7L107.2 497.7L108.6 499.1L107.2 500.6L105.9 501.8L104.0 503.2L101.7 504.1L99.4 505.5L98.6 503.8L97.4 502.3L96.0 500.9"/>
<path d="M115.4 492.9L117.7 493.2L120.0 492.9L121.7 494.7L123.5 496.4L122.2 497.1L121.2 498.2L119.6 497.3L118.2 496.2L116.6 495.2L115.4 492.9"/>
<path d="M253.2 414.0L252.7 416.1L251.9 418.5L252.0 420.9L252.7 422.8L253.6 424.8L253.7 427.1L254.3 428.9L255.2 430.7L256.9 432.2L258.6 433.3L260.0 435.2L261.2 436.9L262.8 438.2L264.3 440.1L266.4 441.3L268.0 442.6L269.3 444.4L269.6 446.6L270.7 448.3L271.5 450.6L272.4 452.6L273.0 455.0L273.3 457.6L273.7 459.8L275.3 461.7L276.3 463.7L277.0 465.6L278.3 467.8L280.0 469.5L281.9 471.1L283.2 473.1L285.2 474.6L287.2 475.3L288.9 476.6L290.9 476.9L293.2 476.5L295.5 476.4L297.8 475.8L299.8 476.6L301.8 476.8L303.5 478.1L302.9 479.9L302.1 481.9L301.2 483.8L302.9 485.6L304.6 487.2L306.5 488.5L308.6 489.1L310.1 490.7L311.9 491.7L313.8 492.9L315.7 493.8L317.2 495.3L319.1 496.4L321.0 497.7L322.9 498.6L324.7 500.7L327.1 501.2L329.5 502.4L330.9 504.4L332.5 505.5L333.5 507.5L335.1 508.5L336.7 510.1L337.6 512.7L339.1 514.4L340.1 517.0L339.4 519.4L339.0 522.0"/>
<path d="M236.0 464.3L237.6 465.8L238.7 467.8L240.6 468.9L241.8 470.6L243.4 472.4L244.9 474.0L246.3 475.8L248.0 477.2L249.1 478.9L250.8 479.8L252.0 481.5L253.6 482.7L254.4 484.7L256.7 485.6L257.7 487.2L259.9 488.4L262.2 488.8L264.6 489.5L266.1 491.5L268.5 492.1L270.3 494.1L271.7 495.7L273.0 497.2L274.3 498.3L276.0 499.8L276.8 502.3L278.3 504.4L280.6 504.8L282.9 505.5L284.2 507.6L285.2 510.1L285.9 512.0L287.9 513.1L288.6 514.7L290.2 516.2L292.1 518.1L293.5 520.2L295.5 522.0"/>
<path d="M311.5 511.2L312.7 509.5L314.6 508.0L316.1 506.7L317.8 507.6L320.0 508.0L321.8 507.8L323.4 509.3L325.0 510.7L326.4 512.4L327.7 513.9L328.5 515.3L329.8 517.0L330.9 518.7L331.8 520.0L332.1 522.0"/>
<path d="M277.2 414.0L279.6 415.2L281.8 416.3L281.7 418.5L282.7 420.7L282.9 423.2L283.8 421.5L284.0 419.3L285.2 417.4L286.8 416.6L288.6 416.3L289.3 418.4L290.0 420.9L290.9 423.2L292.1 425.3L292.6 427.5L293.2 430.0L294.8 432.1L295.3 434.8L296.6 436.9L298.2 438.2L299.8 439.5L301.2 440.7L302.3 442.6L303.5 444.3L304.6 446.0L306.9 446.0L309.2 446.5L311.5 447.2L313.6 448.1L315.1 450.0L317.2 450.6L319.5 451.7L321.5 453.0L324.1 454.0L325.9 455.2L327.4 456.8L328.7 458.6L330.1 460.1L331.7 461.4L333.7 462.7L335.4 463.8L336.7 465.5L338.3 467.4L340.7 468.3L342.4 470.1"/>
<path d="M316.1 455.2L318.1 456.5L320.7 456.7L322.7 458.0L325.3 458.4L327.5 459.8L330.1 460.9L331.9 462.3L334.4 463.2L336.1 465.0L337.6 466.2L339.4 467.6L341.2 468.9"/>
<path d="M293.2 430.0L295.4 430.7L297.8 431.2L295.9 429.6"/>
<path d="M301.2 420.9L302.0 423.5L304.0 425.4L304.6 427.7L305.9 430.0L307.5 431.7L309.2 433.4L310.5 435.5L312.4 436.7L313.0 439.1L314.9 440.3L316.0 442.1L317.9 442.9L319.4 444.6L320.6 446.0L322.0 447.8L323.4 449.7L324.7 451.5L326.4 452.9L328.2 454.1L329.4 455.8L330.2 457.4L332.1 458.6L334.0 460.1L335.6 462.0L337.2 463.6L339.0 465.5L340.4 467.4L342.4 468.9"/>
<path d="M301.2 420.9L301.3 419.1L302.3 417.4L304.7 416.4L306.9 415.1L309.2 414.2L311.4 414.6L313.8 414.0"/>
<path d="M306.9 415.1L309.1 415.7L311.5 416.1L313.8 415.7L316.3 415.7L318.2 416.3L320.6 415.8L322.9 416.3L325.4 416.3L327.4 416.5L329.8 417.2L332.2 417.6L334.5 416.8L336.7 417.4L338.8 418.2L341.2 418.0L343.7 418.3L346.0 418.0L348.1 418.6L348.6 420.6L349.8 422.5L350.4 424.3L349.9 426.4L349.7 429.1L349.2 431.2L350.7 433.1L352.8 434.2L355.0 435.7L354.2 437.6L353.5 439.7L353.5 441.8L352.7 443.7L351.0 445.0L349.4 446.5L348.1 448.3L347.0 450.4L345.6 451.9L344.7 454.0L344.3 456.2L343.6 457.9L342.4 459.8L342.0 461.6L341.9 463.8L341.2 465.5L342.1 467.3L342.4 468.9"/>
<path d="M253.4 434.6L254.3 435.0L253.8 436.0L253.4 434.6"/>
<path d="M435.9 438.5L438.1 439.1L440.1 440.3L441.2 438.8L443.2 437.8L444.6 436.9L446.3 435.2L448.4 434.4L449.5 432.5L451.5 431.2L453.8 430.4L456.1 429.8L458.4 428.9L460.8 428.7L462.9 428.1L465.2 427.3L467.9 428.0L469.8 429.6L472.2 428.6L474.4 428.2L475.9 429.0L477.3 430.4L479.0 431.2L480.6 431.8L482.9 432.1L484.7 432.3"/>
<path d="M485.8 414.0L485.1 416.2L484.2 418.4L484.0 420.9L484.4 423.1L484.8 425.4L484.4 427.9L484.9 429.8L484.7 432.3L484.4 434.4L483.8 436.0L483.5 438.0L481.5 439.6L479.7 440.7L477.8 442.6L477.4 444.6L477.0 446.6L476.7 448.7L476.7 450.6L476.4 452.7L474.9 454.2L474.4 456.3L473.3 458.5L472.1 460.9L473.7 462.0L475.2 464.2L476.7 465.5L478.0 466.7L478.6 468.6L480.1 470.1L481.4 471.6L483.5 472.8L484.7 474.6L486.2 476.2L488.6 476.6L490.4 478.1L492.4 478.5L494.6 478.8L496.4 480.1L498.4 480.3L500.8 479.8L502.9 480.4L505.3 480.9L507.5 480.8L509.7 480.6L511.9 480.5L514.1 480.7L516.0 480.3"/>
<path d="M435.9 485.8L437.0 487.0L438.9 487.2L441.2 486.9L443.5 487.2L445.5 486.7L447.3 485.4L449.5 484.8L451.5 484.5L453.1 483.6L454.9 482.6L453.9 480.5L453.8 478.1L455.3 477.4L456.1 476.2"/>
<path d="M456.1 476.2L458.4 475.4L459.8 473.7L461.8 472.3L463.5 470.7L465.6 469.8L467.5 468.4L469.8 468.0L471.9 467.6L474.4 467.8L476.5 468.5L478.0 469.1L480.1 470.1"/>
<path d="M456.1 476.2L457.9 476.9L459.0 478.8L460.6 479.2L461.4 481.3L461.8 483.8L461.5 485.8L460.5 487.5L459.5 489.5L458.1 491.4L456.7 493.1L456.1 495.2L455.7 497.1L454.9 498.6"/>
<path d="M402.3 504.4L403.6 502.8L405.7 502.1L406.8 503.7L408.0 505.5L409.4 507.3L411.6 508.2L412.6 510.1L414.1 511.4L414.5 513.4L416.0 514.7L417.4 512.9L419.5 511.2L417.7 510.2L416.1 509.3L414.9 507.8L416.7 507.4L418.3 506.7L420.1 507.8L422.4 508.5L424.0 510.1L426.0 510.6L427.9 511.0L429.8 511.2L428.1 510.0L426.3 508.7L425.2 506.7L423.8 505.2L423.2 503.1L421.2 502.0L420.6 499.8L422.5 499.2L424.5 497.9L426.3 497.5L428.1 496.6L429.6 495.4L430.9 494.1L433.2 492.8L435.5 492.9L437.2 493.7L438.9 493.6L440.7 494.1L442.9 493.6L444.6 494.1L446.6 495.0L449.3 494.9L451.5 495.2L453.2 497.1L454.9 498.6L456.7 498.6L458.7 499.0L460.6 499.8L462.9 499.0L465.2 497.5L463.6 498.7L462.2 500.6L461.6 502.6L459.7 504.1L458.4 505.5L457.6 507.5L457.2 510.1L458.4 508.1L459.8 506.1L461.6 504.1L462.9 502.1L464.3 500.6L466.0 499.8L467.5 498.6L469.4 497.8L471.2 496.7L473.0 495.3L474.4 494.1L476.3 493.1L477.9 492.3L479.6 490.5L481.2 489.5L483.4 488.1L485.6 487.0L488.1 486.1L490.6 486.0L492.9 485.8L495.0 484.9L497.0 483.5L499.5 482.6L498.4 480.3"/>
<path d="M402.3 504.4L403.1 506.3L402.5 508.4L403.5 510.1L404.1 512.2L404.8 514.0L405.7 515.8L406.7 517.7L407.4 519.8L408.0 522.0"/>
<path d="M431.6 498.6L433.2 496.8L435.0 498.6L433.2 500.5L431.6 498.6"/>
<path d="M441.2 512.8L443.0 512.7L444.6 512.4L445.8 514.7L443.9 514.9L442.3 515.8L442.2 514.1L441.2 512.8"/>
<path d="M499.5 482.6L501.2 484.1L502.9 485.4L504.1 487.2L506.2 488.1L508.7 488.3L511.0 488.4L513.5 488.0L516.0 487.2"/>
<path d="M458.4 510.1L459.8 508.1L461.8 507.1L463.6 505.9L465.2 504.4L467.5 503.5L469.4 502.2L471.8 501.4L474.4 500.9L476.8 501.1L478.9 500.5L481.2 499.9L483.5 499.8L485.9 498.8L488.2 498.9L490.4 497.5L492.7 496.6L495.1 497.4L497.0 496.3L499.5 496.4L501.2 495.6L502.7 494.0L504.1 492.9L506.1 491.6L508.7 490.6L511.0 489.5L513.3 488.8L516.0 489.0"/>
<path d="M377.7 415.3L378.4 417.7L380.1 419.4L381.9 420.2L383.1 421.7L385.0 422.6L386.5 423.4L388.1 424.5L389.9 425.1L392.0 424.4L394.0 423.4L396.4 422.7L398.9 422.6L399.2 424.4L399.7 425.9L398.8 427.3L397.3 427.5L398.2 429.0L398.9 430.8L400.8 431.8L402.2 433.2L403.3 435.1L403.8 437.3L405.9 437.8L407.9 439.0L409.8 438.2L412.4 438.4L414.4 438.1L416.6 438.0L418.9 438.9L421.0 439.0L422.9 439.8L425.2 439.4L427.5 439.8L429.6 439.8L431.9 439.1L433.7 439.4L436.0 439.0"/>
<path d="M402.2 433.2L400.5 434.3L398.9 434.9L397.2 436.8L395.6 438.1L395.9 440.4L396.5 443.0L398.0 444.3L399.8 445.8L401.4 447.1L402.9 448.3L403.8 450.1L405.4 451.2L404.0 452.7L403.5 454.4L402.2 456.1L401.1 457.9L399.7 459.0L398.1 460.2L397.6 462.1L397.3 464.3L397.9 466.6L398.9 468.4"/>
<path d="M398.9 468.4L397.1 468.7L394.9 468.6L393.2 469.5L391.2 469.9L388.8 469.7L386.7 470.8L384.3 471.3L382.2 472.4L380.1 472.8L378.2 473.6L376.0 474.0L374.4 474.9L374.1 476.9L372.8 479.0"/>
<path d="M398.9 468.4L400.1 470.1L401.7 471.5L403.0 473.3L404.2 474.6L405.3 475.8L406.3 477.4L407.0 479.7L407.6 482.3L407.4 484.3L406.9 486.2L406.6 488.0"/>
<path d="M406.6 488.0L404.9 488.8L403.4 489.8L401.4 490.4L399.8 491.4L397.6 492.2L395.6 492.4L393.7 492.6L392.0 493.9L389.9 494.5L388.2 495.0L386.8 496.4L385.0 497.0L382.9 497.4L380.6 498.5L378.5 498.6L376.7 499.0L375.2 499.4"/>
<path d="M372.8 479.0L372.1 480.7L371.2 482.1L370.3 483.9L370.5 486.4L371.1 488.8L371.9 491.1L372.8 493.7L373.7 495.7L374.1 497.8L375.2 499.4"/>
<path d="M406.6 488.0L408.6 487.9L410.7 487.7L412.8 486.8L415.3 486.7L417.2 486.1L419.3 485.2L421.5 484.7L423.5 483.3L425.9 483.1L427.7 482.4L429.6 482.3L431.6 482.3L433.7 483.2L436.0 483.9"/>
<path d="M351.5 473.3L352.4 471.6L353.3 469.6L354.8 468.4L356.0 467.0L357.3 465.9L358.1 464.3L359.3 465.6L360.5 466.7L362.1 466.5L363.8 465.9L364.6 467.6L365.7 468.8L367.0 470.0L369.1 471.4L370.3 473.3L371.2 474.6L371.9 476.5L372.8 479.0"/>
<path d="M336.0 465.1L337.9 465.4L339.3 466.7L341.4 467.8L343.4 469.2L344.9 470.7L347.4 471.6L349.5 472.8L351.5 473.3L352.9 475.2L354.0 477.4L354.9 479.7L355.6 482.3L355.1 484.7L354.0 487.2L354.7 489.4L354.9 491.6L354.8 493.7L354.4 495.8L353.3 497.8L353.2 500.2L353.4 502.3L352.4 504.4L352.1 506.4L352.3 508.4L354.0 509.9L354.7 511.7L356.4 513.3L357.7 514.4L359.4 515.1L360.5 516.6L360.8 518.3L361.7 520.2L362.1 522.0"/>
<path d="M375.2 499.4L377.0 501.1L377.7 503.5L377.1 506.1L376.0 508.4L375.0 509.6L374.1 511.2L372.8 512.5L371.6 514.2L369.9 515.1L368.7 516.6L367.7 518.2L367.2 520.1L367.0 522.0"/>
</g>
<g fill="#4d86c4" font-size="11" text-anchor="middle">
<text x="331.0" y="225.5" textLength="12.4" lengthAdjust="spacingAndGlyphs">55</text>
<text x="329.8" y="322.9" textLength="12.4" lengthAdjust="spacingAndGlyphs">50</text>
<text x="327.5" y="421.3" textLength="12.4" lengthAdjust="spacingAndGlyphs">45</text>
<text x="327.5" y="520.9" textLength="12.4" lengthAdjust="spacingAndGlyphs">40</text>
<text x="128.0" y="241.5">0</text>
<text x="243.0" y="264.8" textLength="12.4" lengthAdjust="spacingAndGlyphs">10</text>
<text x="302.8" y="269.9" textLength="12.4" lengthAdjust="spacingAndGlyphs">15</text>
<text x="361.8" y="270.5" textLength="12.4" lengthAdjust="spacingAndGlyphs">20</text>
<text x="421.0" y="268.2" textLength="12.4" lengthAdjust="spacingAndGlyphs">25</text>
<text x="480.0" y="260.2" textLength="12.4" lengthAdjust="spacingAndGlyphs">30</text>
</g>
</g>
<g clip-path="url(#mc)" fill="none" stroke-width="1.4" stroke-linejoin="round" stroke-linecap="round">
<path d="M341.2 231.8C340.7 233.4 338.9 239.1 338.0 241.6C337.1 244.1 336.8 244.9 335.5 247.0C334.2 249.1 331.6 252.4 330.2 254.4C328.8 256.4 328.4 257.0 327.1 258.8C325.8 260.6 324.0 263.2 322.4 265.1C320.8 267.0 318.9 268.6 317.7 270.0C316.4 271.4 316.0 272.1 314.9 273.4C313.8 274.6 312.1 276.4 311.0 277.5C309.9 278.6 309.2 279.2 308.0 280.2C306.8 281.1 304.7 282.4 303.6 283.2C302.5 284.0 302.2 284.5 301.2 285.2C300.1 285.9 298.5 286.7 297.3 287.3C296.1 287.9 295.1 288.4 293.8 288.6C292.5 288.9 290.5 288.8 289.4 288.8C288.2 288.9 288.0 288.8 286.9 288.9C285.8 289.0 283.9 289.1 282.5 289.4C281.1 289.7 279.6 290.4 278.6 290.7C277.6 291.0 277.5 290.7 276.5 291.1C275.5 291.5 273.7 292.3 272.7 293.0C271.7 293.7 271.0 294.6 270.3 295.5C269.6 296.4 268.6 297.9 268.3 298.4" stroke="#ff0000"/>
<path d="M335.5 246.5 L333.0 250.3 L338.0 250.3 Z" fill="#ff0000"/>
<path d="M327.1 258.3 L324.6 262.1 L329.6 262.1 Z" fill="#ff0000"/>
<path d="M317.7 269.5 L315.2 273.3 L320.2 273.3 Z" fill="#ff0000"/>
<path d="M308.0 277.1 L304.0 283.5 L312.0 283.5 Z" fill="#ff0000"/>
<path d="M297.3 286.8 L294.8 290.6 L299.8 290.6 Z" fill="#ff0000"/>
<path d="M286.9 288.4 L284.4 292.2 L289.4 292.2 Z" fill="#ff0000"/>
<path d="M276.5 290.6 L274.0 294.4 L279.0 294.4 Z" fill="#ff0000"/>
<path d="M268.3 295.3 L264.3 301.7 L272.3 301.7 Z" fill="#ff0000"/>
<path d="M341.2 231.8C339.5 234.2 334.9 241.6 331.0 246.3C327.1 251.0 321.8 255.3 317.9 260.2C314.0 265.0 310.9 270.9 307.5 275.4C304.1 279.9 301.2 283.7 297.5 287.3C293.8 290.9 289.4 294.4 285.5 297.2C281.6 300.0 277.9 302.0 274.4 304.4C270.9 306.8 268.8 307.8 264.6 311.3C260.4 314.8 251.8 323.0 249.2 325.3" stroke="#0000ff"/>
<rect x="328.7" y="244.0" width="4.6" height="4.6" fill="#0000ff"/>
<rect x="315.6" y="257.9" width="4.6" height="4.6" fill="#0000ff"/>
<rect x="305.2" y="273.1" width="4.6" height="4.6" fill="#0000ff"/>
<rect x="293.8" y="283.6" width="7.4" height="7.4" fill="#0000ff"/>
<rect x="283.2" y="294.9" width="4.6" height="4.6" fill="#0000ff"/>
<rect x="272.1" y="302.1" width="4.6" height="4.6" fill="#0000ff"/>
<rect x="262.3" y="309.0" width="4.6" height="4.6" fill="#0000ff"/>
<rect x="245.5" y="321.6" width="7.4" height="7.4" fill="#0000ff"/>
<path d="M341.2 231.8C340.8 233.9 340.5 239.9 338.9 244.5C337.3 249.1 333.7 254.9 331.4 259.5C329.1 264.1 327.2 267.9 325.3 272.0C323.4 276.1 322.2 278.8 319.8 284.3C317.4 289.8 313.3 299.6 310.6 305.1C307.9 310.6 306.0 314.2 303.4 317.5C300.8 320.8 297.4 322.4 294.9 324.6C292.4 326.9 289.9 328.5 288.5 331.0C287.1 333.5 287.0 336.7 286.8 339.7C286.6 342.7 286.9 346.2 287.5 349.0C288.1 351.8 290.4 354.5 290.2 356.4C290.0 358.3 288.0 359.4 286.5 360.5C285.0 361.6 282.2 362.8 281.3 363.3" stroke="#00ff00"/>
<circle cx="331.4" cy="259.5" r="2.4" fill="#00ff00"/>
<circle cx="319.8" cy="284.3" r="2.4" fill="#00ff00"/>
<circle cx="310.6" cy="305.1" r="2.4" fill="#00ff00"/>
<circle cx="303.4" cy="317.5" r="3.6" fill="#00ff00"/>
<circle cx="294.9" cy="324.6" r="2.4" fill="#00ff00"/>
<circle cx="286.8" cy="339.7" r="2.4" fill="#00ff00"/>
<circle cx="290.2" cy="356.4" r="2.4" fill="#00ff00"/>
<circle cx="281.3" cy="363.3" r="3.6" fill="#00ff00"/>
<path d="M369.9 274.9C368.5 274.7 364.1 274.0 361.4 273.9C358.7 273.8 355.7 274.0 353.5 274.3C351.3 274.6 350.0 274.8 348.3 275.7C346.6 276.6 344.6 278.1 343.1 279.6C341.6 281.1 340.0 283.5 339.1 284.6C338.2 285.7 338.9 285.4 337.6 286.0C336.3 286.6 333.4 287.3 331.3 287.9C329.2 288.5 326.9 289.2 325.0 289.6C323.1 290.1 321.5 290.2 320.1 290.6C318.7 291.0 317.7 291.8 316.4 292.2C315.1 292.6 313.7 292.5 312.4 293.1C311.1 293.7 309.7 295.0 308.7 296.0C307.7 297.0 307.1 298.6 306.6 299.3C306.1 300.0 306.4 299.3 305.6 300.0C304.9 300.7 303.3 302.7 302.1 303.4C300.9 304.1 299.5 304.1 298.2 304.4C296.9 304.7 295.6 304.9 294.5 305.2C293.4 305.5 292.5 305.9 291.5 306.3C290.5 306.7 289.4 306.8 288.3 307.3C287.2 307.8 285.9 308.7 285.0 309.4C284.1 310.1 283.2 311.1 282.9 311.4" stroke="#ff0000"/>
<path d="M353.5 273.8 L351.0 277.6 L356.0 277.6 Z" fill="#ff0000"/>
<path d="M337.6 285.5 L335.1 289.3 L340.1 289.3 Z" fill="#ff0000"/>
<path d="M325.0 289.1 L322.5 292.9 L327.5 292.9 Z" fill="#ff0000"/>
<path d="M312.4 290.0 L308.4 296.4 L316.4 296.4 Z" fill="#ff0000"/>
<path d="M305.6 299.5 L303.1 303.3 L308.1 303.3 Z" fill="#ff0000"/>
<path d="M298.2 303.9 L295.7 307.7 L300.7 307.7 Z" fill="#ff0000"/>
<path d="M291.5 305.8 L289.0 309.6 L294.0 309.6 Z" fill="#ff0000"/>
<path d="M282.9 308.3 L278.9 314.7 L286.9 314.7 Z" fill="#ff0000"/>
<path d="M369.9 274.9C368.1 276.8 361.9 282.9 359.0 286.1C356.1 289.3 354.0 291.2 352.5 294.0C351.0 296.8 350.5 300.3 349.8 303.1C349.1 305.9 348.2 307.9 348.4 311.0C348.6 314.1 350.2 318.5 351.2 321.7C352.2 324.9 353.5 327.4 354.5 330.0C355.5 332.6 356.8 334.9 357.1 337.4C357.4 339.9 356.9 342.6 356.5 345.0C356.1 347.4 355.5 348.9 354.4 351.6C353.3 354.3 351.5 357.7 350.0 361.0C348.5 364.3 347.1 367.7 345.6 371.4C344.1 375.1 342.6 379.4 341.0 383.0C339.4 386.6 338.6 390.1 335.8 393.0C333.0 395.9 328.3 398.0 324.3 400.4C320.3 402.8 313.8 406.1 311.7 407.2" stroke="#0000ff"/>
<rect x="356.7" y="283.8" width="4.6" height="4.6" fill="#0000ff"/>
<rect x="347.5" y="300.8" width="4.6" height="4.6" fill="#0000ff"/>
<rect x="348.9" y="319.4" width="4.6" height="4.6" fill="#0000ff"/>
<rect x="353.4" y="333.7" width="7.4" height="7.4" fill="#0000ff"/>
<rect x="352.1" y="349.3" width="4.6" height="4.6" fill="#0000ff"/>
<rect x="343.3" y="369.1" width="4.6" height="4.6" fill="#0000ff"/>
<rect x="333.5" y="390.7" width="4.6" height="4.6" fill="#0000ff"/>
<rect x="308.0" y="403.5" width="7.4" height="7.4" fill="#0000ff"/>
<path d="M369.9 274.9C368.8 276.6 365.4 281.4 363.5 285.0C361.6 288.6 359.8 293.0 358.2 296.3C356.6 299.6 355.4 302.1 354.1 305.0C352.9 307.9 351.6 311.7 350.7 313.8C349.8 315.9 349.6 315.9 349.0 317.7C348.4 319.5 347.4 321.8 347.3 324.6C347.2 327.4 347.5 331.4 348.2 334.4C348.9 337.4 350.3 339.9 351.7 342.5C353.1 345.1 355.0 347.5 356.6 350.1C358.2 352.7 360.3 356.1 361.5 357.9C362.7 359.7 363.1 359.3 363.9 360.9C364.7 362.5 366.2 365.0 366.4 367.7C366.6 370.4 365.4 374.2 365.0 377.3C364.6 380.4 364.2 383.0 364.0 386.0C363.8 389.0 363.3 392.4 363.9 395.4C364.5 398.4 366.3 401.6 367.4 404.2C368.5 406.8 369.4 409.0 370.3 411.1C371.2 413.2 372.3 414.3 372.8 417.0C373.3 419.7 373.1 425.6 373.2 427.3" stroke="#00ff00"/>
<circle cx="358.2" cy="296.3" r="2.4" fill="#00ff00"/>
<circle cx="349.0" cy="317.7" r="2.4" fill="#00ff00"/>
<circle cx="351.7" cy="342.5" r="2.4" fill="#00ff00"/>
<circle cx="363.9" cy="360.9" r="3.6" fill="#00ff00"/>
<circle cx="365.0" cy="377.3" r="2.4" fill="#00ff00"/>
<circle cx="363.9" cy="395.4" r="2.4" fill="#00ff00"/>
<circle cx="370.3" cy="411.1" r="2.4" fill="#00ff00"/>
<circle cx="373.2" cy="427.3" r="3.6" fill="#00ff00"/>
<path d="M383.0 319.8C381.5 319.6 377.3 319.0 374.2 318.7C371.1 318.4 367.7 317.9 364.4 318.0C361.1 318.1 357.6 318.5 354.6 319.2C351.6 319.9 349.7 321.3 346.6 322.3C343.5 323.3 338.7 324.4 335.9 325.1C333.1 325.8 332.1 326.0 330.0 326.6C327.9 327.2 325.5 327.8 323.3 328.8C321.1 329.8 318.4 331.7 316.8 332.6C315.2 333.6 314.8 334.1 313.9 334.5C313.0 334.9 312.8 334.8 311.5 334.9C310.2 335.0 307.6 335.0 306.1 335.0C304.7 335.0 304.0 335.2 302.8 335.1C301.6 335.0 300.7 334.5 298.8 334.3C296.9 334.1 293.0 334.1 291.4 334.1C289.8 334.1 290.4 334.2 289.4 334.3C288.4 334.4 286.0 334.8 285.3 334.9" stroke="#ff0000"/>
<path d="M354.6 318.7 L352.1 322.5 L357.1 322.5 Z" fill="#ff0000"/>
<path d="M335.9 324.6 L333.4 328.4 L338.4 328.4 Z" fill="#ff0000"/>
<path d="M323.3 328.3 L320.8 332.1 L325.8 332.1 Z" fill="#ff0000"/>
<path d="M311.5 331.8 L307.5 338.2 L315.5 338.2 Z" fill="#ff0000"/>
<path d="M302.8 334.6 L300.3 338.4 L305.3 338.4 Z" fill="#ff0000"/>
<path d="M291.4 333.6 L288.9 337.4 L293.9 337.4 Z" fill="#ff0000"/>
<path d="M285.3 331.8 L281.3 338.2 L289.3 338.2 Z" fill="#ff0000"/>
<path d="M383.0 319.8C381.5 320.1 377.2 321.3 374.2 321.9C371.2 322.4 367.3 322.8 364.9 323.1C362.5 323.4 361.2 323.2 360.0 323.8C358.8 324.4 358.1 325.5 357.8 326.6C357.5 327.7 357.7 328.9 358.0 330.2C358.3 331.5 358.6 332.2 359.5 334.4C360.4 336.6 362.4 341.0 363.4 343.2C364.4 345.4 365.0 345.8 365.7 347.4C366.4 349.0 367.3 351.2 367.8 353.0C368.3 354.8 368.5 356.2 368.5 358.4C368.5 360.6 368.2 363.4 367.8 366.0C367.4 368.6 366.7 371.6 366.4 374.3C366.1 377.0 366.0 379.3 365.9 382.0C365.8 384.7 365.7 387.9 365.9 390.3C366.1 392.7 366.2 394.5 366.9 396.4C367.6 398.3 369.2 400.3 370.3 401.8C371.4 403.3 372.4 404.5 373.2 405.4C374.0 406.3 374.6 405.7 374.9 407.0C375.2 408.3 374.9 412.2 374.9 413.3" stroke="#0000ff"/>
<rect x="362.6" y="320.8" width="4.6" height="4.6" fill="#0000ff"/>
<rect x="355.7" y="327.9" width="4.6" height="4.6" fill="#0000ff"/>
<rect x="363.4" y="345.1" width="4.6" height="4.6" fill="#0000ff"/>
<rect x="364.8" y="354.7" width="7.4" height="7.4" fill="#0000ff"/>
<rect x="364.1" y="372.0" width="4.6" height="4.6" fill="#0000ff"/>
<rect x="363.6" y="388.0" width="4.6" height="4.6" fill="#0000ff"/>
<rect x="370.9" y="403.1" width="4.6" height="4.6" fill="#0000ff"/>
<rect x="371.2" y="409.6" width="7.4" height="7.4" fill="#0000ff"/>
<path d="M383.0 319.8C382.2 320.9 380.0 324.3 378.1 326.6C376.2 328.9 373.3 331.6 371.8 333.4C370.3 335.2 369.5 335.4 369.3 337.4C369.1 339.4 370.3 342.4 370.8 345.2C371.3 348.0 371.7 350.8 372.3 354.0C372.9 357.2 373.6 360.8 374.5 364.3C375.4 367.8 376.7 371.6 377.6 375.0C378.5 378.4 379.7 381.7 379.8 384.6C379.9 387.5 379.1 389.6 378.1 392.5C377.1 395.4 375.3 399.3 373.7 402.3C372.1 405.3 370.5 407.9 368.7 410.5C366.9 413.1 365.9 414.3 363.1 418.2C360.3 422.1 355.5 428.7 352.0 434.0C348.5 439.3 344.7 445.3 342.0 450.0C339.3 454.7 338.1 457.6 336.0 462.0C333.9 466.4 330.6 474.1 329.5 476.5" stroke="#00ff00"/>
<circle cx="371.8" cy="333.4" r="2.4" fill="#00ff00"/>
<circle cx="370.8" cy="345.2" r="2.4" fill="#00ff00"/>
<circle cx="374.5" cy="364.3" r="2.4" fill="#00ff00"/>
<circle cx="379.8" cy="384.6" r="3.6" fill="#00ff00"/>
<circle cx="373.7" cy="402.3" r="2.4" fill="#00ff00"/>
<circle cx="363.1" cy="418.2" r="2.4" fill="#00ff00"/>
<circle cx="342.0" cy="450.0" r="2.4" fill="#00ff00"/>
<circle cx="329.5" cy="476.5" r="3.6" fill="#00ff00"/>
</g>
<path d="M341.2 226.6L342.4 230.1L346.1 230.2L343.2 232.4L344.3 236.0L341.2 233.9L338.1 236.0L339.2 232.4L336.3 230.2L340.0 230.1Z" fill="#000"/>
<path d="M369.9 269.7L371.1 273.2L374.8 273.3L371.9 275.5L373.0 279.1L369.9 277.0L366.8 279.1L367.9 275.5L365.0 273.3L368.7 273.2Z" fill="#000"/>
<path d="M383.0 314.6L384.2 318.1L387.9 318.2L385.0 320.4L386.1 324.0L383.0 321.9L379.9 324.0L381.0 320.4L378.1 318.2L381.8 318.1Z" fill="#000"/>
<g fill="none">
<path d="M95 198.15H517.05" stroke="#686868" stroke-width="1.78"/>
<path d="M95 521.98H517.05" stroke="#686868" stroke-width="1.78"/>
<path d="M95 602.95H517.05" stroke="#686868" stroke-width="1.78"/>
<path d="M95 629.98H517.05" stroke="#686868" stroke-width="1.78"/>
<path d="M95.55 197.3V630.8" stroke="#000" stroke-width="1.1"/>
<path d="M516.5 197.3V630.8" stroke="#000" stroke-width="1.15"/>
</g>
<!--PANEL-->
<g stroke="#a8a8a8" stroke-width="0.85" stroke-dasharray="6.6 5.4" fill="none">
<path d="M137.2 533.3H476"/>
<path d="M137.2 544.8H476"/>
<path d="M137.2 556.4H476"/>
<path d="M137.2 567.9H476"/>
<path d="M137.2 579.4H476"/>
<path d="M137.2 590.9H476"/>
</g>
<path d="M143.8 528.4L145.0 531.9L148.7 532.0L145.8 534.2L146.9 537.8L143.8 535.7L140.7 537.8L141.8 534.2L138.9 532.0L142.6 531.9Z" fill="#000"/>
<path d="M143.8 563.2L145.0 566.7L148.7 566.8L145.8 569.0L146.9 572.6L143.8 570.5L140.7 572.6L141.8 569.0L138.9 566.8L142.6 566.7Z" fill="#000"/>
<path d="M143.8 585.9L145.0 589.4L148.7 589.5L145.8 591.7L146.9 595.3L143.8 593.2L140.7 595.3L141.8 591.7L138.9 589.5L142.6 589.4Z" fill="#000"/>
<g clip-path="url(#pc)" fill="none" stroke-width="1.4" stroke-linejoin="round" stroke-linecap="round">
<path d="M143.7 591.1C150.5 590.7 175.6 589.5 184.2 588.6C192.9 587.7 192.0 586.7 195.5 585.6C199.0 584.5 202.2 583.1 205.4 582.3C208.7 581.5 211.8 581.3 215.0 581.0C218.2 580.7 219.9 581.0 224.8 580.6C229.7 580.2 237.7 579.4 244.5 578.7C251.3 578.0 258.5 576.7 265.3 576.3C272.2 575.9 280.3 576.0 285.4 576.2C290.5 576.4 292.6 576.6 296.0 577.3C299.4 578.0 302.0 579.5 305.9 580.4C309.8 581.3 315.1 582.1 319.6 582.5C324.1 582.9 328.2 582.6 332.7 582.5C337.2 582.4 341.0 582.6 346.4 582.0C351.9 581.4 360.1 579.5 365.4 578.7C370.7 577.9 374.8 577.3 378.4 577.1C382.0 576.9 383.5 577.3 387.0 577.6C390.5 577.9 395.3 578.1 399.6 578.7C403.9 579.3 408.0 580.5 412.7 581.2C417.4 582.0 422.1 582.5 427.5 583.2C433.0 583.9 438.6 584.4 445.4 585.3C452.2 586.2 464.3 588.2 468.1 588.8" stroke="#ff0000"/>
<path d="M184.2 588.1 L181.8 591.9 L186.8 591.9 Z" fill="#ff0000"/>
<path d="M224.8 580.1 L222.3 583.9 L227.3 583.9 Z" fill="#ff0000"/>
<path d="M265.3 575.8 L262.8 579.6 L267.8 579.6 Z" fill="#ff0000"/>
<path d="M305.9 577.3 L301.9 583.7 L309.9 583.7 Z" fill="#ff0000"/>
<path d="M346.4 581.5 L343.9 585.3 L348.9 585.3 Z" fill="#ff0000"/>
<path d="M387.0 577.1 L384.5 580.9 L389.5 580.9 Z" fill="#ff0000"/>
<path d="M427.5 582.7 L425.0 586.5 L430.0 586.5 Z" fill="#ff0000"/>
<path d="M468.1 585.7 L464.1 592.1 L472.1 592.1 Z" fill="#ff0000"/>
<path d="M143.7 591.1C150.5 591.0 170.7 591.2 184.2 590.3C197.8 589.3 214.8 586.5 224.8 585.4C234.8 584.3 237.7 584.0 244.5 583.6C251.3 583.2 258.5 583.1 265.3 582.8C272.2 582.4 278.6 581.5 285.4 581.5C292.2 581.5 300.2 582.2 305.9 582.8C311.6 583.4 315.1 584.5 319.6 585.3C324.1 586.0 328.2 586.8 332.7 587.3C337.2 587.8 341.0 587.5 346.4 588.5C351.9 589.5 358.6 591.8 365.4 593.4C372.2 595.0 381.3 597.3 387.0 598.3C392.7 599.3 395.3 599.1 399.6 599.2C403.9 599.3 408.0 599.1 412.7 598.8C417.4 598.5 422.1 598.0 427.5 597.5C433.0 597.0 438.6 596.4 445.4 595.9C452.2 595.4 464.3 594.6 468.1 594.3" stroke="#ff0000"/>
<path d="M184.2 589.8 L181.8 593.6 L186.8 593.6 Z" fill="#ff0000"/>
<path d="M224.8 584.9 L222.3 588.7 L227.3 588.7 Z" fill="#ff0000"/>
<path d="M265.3 582.3 L262.8 586.1 L267.8 586.1 Z" fill="#ff0000"/>
<path d="M305.9 579.7 L301.9 586.1 L309.9 586.1 Z" fill="#ff0000"/>
<path d="M346.4 588.0 L343.9 591.8 L348.9 591.8 Z" fill="#ff0000"/>
<path d="M387.0 597.8 L384.5 601.6 L389.5 601.6 Z" fill="#ff0000"/>
<path d="M427.5 597.0 L425.0 600.8 L430.0 600.8 Z" fill="#ff0000"/>
<path d="M468.1 591.2 L464.1 597.6 L472.1 597.6 Z" fill="#ff0000"/>
<path d="M143.7 591.1C150.5 591.5 170.7 592.9 184.2 593.2C197.8 593.5 214.8 592.9 224.8 592.8C234.8 592.7 237.7 592.5 244.5 592.6C251.3 592.7 258.5 593.2 265.3 593.4C272.2 593.6 278.6 593.8 285.4 593.8C292.2 593.8 300.2 593.7 305.9 593.4C311.6 593.1 315.1 592.5 319.6 591.8C324.1 591.1 328.2 590.1 332.7 589.4C337.2 588.7 341.0 587.2 346.4 587.7C351.9 588.2 358.6 590.9 365.4 592.6C372.2 594.3 381.3 596.9 387.0 597.9C392.7 598.9 392.8 598.4 399.6 598.5C406.4 598.6 419.9 598.5 427.5 598.3C435.2 598.1 438.6 597.7 445.4 597.2C452.2 596.7 464.3 595.8 468.1 595.5" stroke="#ff0000"/>
<path d="M184.2 592.7 L181.8 596.5 L186.8 596.5 Z" fill="#ff0000"/>
<path d="M224.8 592.3 L222.3 596.1 L227.3 596.1 Z" fill="#ff0000"/>
<path d="M265.3 592.9 L262.8 596.7 L267.8 596.7 Z" fill="#ff0000"/>
<path d="M305.9 590.3 L301.9 596.7 L309.9 596.7 Z" fill="#ff0000"/>
<path d="M346.4 587.2 L343.9 591.0 L348.9 591.0 Z" fill="#ff0000"/>
<path d="M387.0 597.4 L384.5 601.2 L389.5 601.2 Z" fill="#ff0000"/>
<path d="M427.5 597.8 L425.0 601.6 L430.0 601.6 Z" fill="#ff0000"/>
<path d="M468.1 592.4 L464.1 598.8 L472.1 598.8 Z" fill="#ff0000"/>
<path d="M143.7 533.6C147.1 533.6 157.2 533.6 164.0 533.6C170.8 533.6 178.7 533.6 184.2 533.7C189.8 533.8 193.7 534.4 197.2 534.0C200.7 533.6 202.4 532.4 205.4 531.5C208.4 530.6 212.0 529.3 215.2 528.8C218.4 528.2 219.9 527.5 224.8 528.2C229.7 528.9 239.3 531.0 244.5 533.0C249.7 535.0 252.5 537.7 256.0 540.3C259.5 542.9 261.8 545.6 265.3 548.5C268.9 551.4 273.3 554.5 277.2 557.5C281.1 560.5 285.1 564.3 288.6 566.5C292.1 568.7 295.5 570.0 298.4 570.9C301.3 571.8 302.4 571.2 305.9 571.7C309.4 572.2 315.1 572.3 319.6 573.8C324.1 575.2 328.2 578.2 332.7 580.4C337.2 582.6 341.0 585.1 346.4 586.9C351.9 588.7 358.6 589.9 365.4 591.0C372.2 592.1 381.3 593.1 387.0 593.4C392.7 593.7 395.3 592.5 399.6 592.6C403.9 592.7 408.0 593.4 412.7 593.9C417.4 594.4 422.1 594.8 427.5 595.4C433.0 596.0 438.6 596.6 445.4 597.5C452.2 598.4 464.3 600.0 468.1 600.5" stroke="#00ff00"/>
<circle cx="184.2" cy="533.7" r="2.4" fill="#00ff00"/>
<circle cx="224.8" cy="528.2" r="2.4" fill="#00ff00"/>
<circle cx="265.3" cy="548.5" r="2.4" fill="#00ff00"/>
<circle cx="305.9" cy="571.7" r="3.6" fill="#00ff00"/>
<circle cx="346.4" cy="586.9" r="2.4" fill="#00ff00"/>
<circle cx="387.0" cy="593.4" r="2.4" fill="#00ff00"/>
<circle cx="427.5" cy="595.4" r="2.4" fill="#00ff00"/>
<circle cx="468.1" cy="600.5" r="3.6" fill="#00ff00"/>
<path d="M143.7 568.4C150.5 567.9 170.7 566.6 184.2 565.6C197.8 564.6 215.6 564.0 224.8 562.6C234.0 561.2 234.9 558.8 239.6 557.5C244.2 556.2 248.4 555.2 252.7 554.8C257.0 554.4 259.9 554.8 265.3 555.0C270.8 555.2 278.6 555.4 285.4 555.9C292.2 556.4 300.2 557.2 305.9 558.3C311.6 559.4 315.1 560.6 319.6 562.4C324.1 564.2 328.2 566.8 332.7 568.9C337.2 571.0 342.1 573.8 346.4 575.0C350.8 576.2 354.3 576.5 358.8 576.0C363.3 575.5 368.8 572.9 373.5 572.3C378.2 571.7 382.6 572.4 387.0 572.2C391.4 572.1 395.3 572.0 399.6 571.4C403.9 570.8 408.0 569.2 412.7 568.9C417.4 568.6 422.9 569.8 427.5 569.4C432.2 569.0 435.9 567.8 440.5 566.8C445.1 565.8 450.6 564.2 455.2 563.5C459.8 562.8 465.9 562.6 468.1 562.4" stroke="#0000ff"/>
<rect x="181.9" y="563.3" width="4.6" height="4.6" fill="#0000ff"/>
<rect x="222.5" y="560.3" width="4.6" height="4.6" fill="#0000ff"/>
<rect x="263.0" y="552.7" width="4.6" height="4.6" fill="#0000ff"/>
<rect x="302.2" y="554.6" width="7.4" height="7.4" fill="#0000ff"/>
<rect x="344.1" y="572.7" width="4.6" height="4.6" fill="#0000ff"/>
<rect x="384.7" y="569.9" width="4.6" height="4.6" fill="#0000ff"/>
<rect x="425.2" y="567.1" width="4.6" height="4.6" fill="#0000ff"/>
<rect x="464.4" y="558.7" width="7.4" height="7.4" fill="#0000ff"/>
<path d="M143.7 568.4C150.5 568.3 170.7 568.6 184.2 567.8C197.8 567.0 214.8 564.6 224.8 563.4C234.8 562.2 237.7 561.5 244.5 560.8C251.3 560.1 258.5 559.6 265.3 559.1C272.2 558.6 278.6 557.9 285.4 558.0C292.2 558.1 300.2 558.7 305.9 559.8C311.6 560.9 315.1 562.9 319.6 564.5C324.1 566.1 328.2 567.8 332.7 569.6C337.2 571.4 342.1 573.7 346.4 575.2C350.8 576.7 354.3 577.6 358.8 578.7C363.3 579.8 368.8 581.2 373.5 582.0C378.2 582.8 382.6 583.1 387.0 583.2C391.4 583.3 395.3 582.7 399.6 582.8C403.9 582.9 408.0 583.3 412.7 583.6C417.4 583.9 422.9 584.9 427.5 584.8C432.2 584.7 436.4 583.8 440.5 582.8C444.6 581.8 447.3 580.3 451.9 578.7C456.5 577.1 465.4 574.0 468.1 573.0" stroke="#0000ff"/>
<rect x="181.9" y="565.5" width="4.6" height="4.6" fill="#0000ff"/>
<rect x="222.5" y="561.1" width="4.6" height="4.6" fill="#0000ff"/>
<rect x="263.0" y="556.8" width="4.6" height="4.6" fill="#0000ff"/>
<rect x="302.2" y="556.1" width="7.4" height="7.4" fill="#0000ff"/>
<rect x="344.1" y="572.9" width="4.6" height="4.6" fill="#0000ff"/>
<rect x="384.7" y="580.9" width="4.6" height="4.6" fill="#0000ff"/>
<rect x="425.2" y="582.5" width="4.6" height="4.6" fill="#0000ff"/>
<rect x="464.4" y="569.3" width="7.4" height="7.4" fill="#0000ff"/>
<path d="M143.7 568.4C150.5 568.7 174.0 570.2 184.2 570.0C194.5 569.8 199.7 567.8 205.4 566.9C211.1 566.0 215.2 564.8 218.4 564.9C221.6 565.0 222.3 566.7 224.8 567.8C227.2 568.9 229.8 569.3 233.1 571.4C236.4 573.5 240.7 577.7 244.5 580.4C248.3 583.1 252.5 586.0 256.0 587.7C259.5 589.4 260.4 589.8 265.3 590.7C270.2 591.7 278.6 592.8 285.4 593.4C292.2 594.0 300.2 594.2 305.9 594.6C311.6 595.0 315.1 595.3 319.6 595.9C324.1 596.5 328.2 597.6 332.7 598.3C337.2 599.0 341.0 599.6 346.4 600.0C351.9 600.4 358.6 600.4 365.4 600.5C372.2 600.6 376.6 600.6 387.0 600.8C397.4 601.0 414.0 601.7 427.5 601.8C441.1 601.9 461.3 601.6 468.1 601.6" stroke="#0000ff"/>
<rect x="181.9" y="567.7" width="4.6" height="4.6" fill="#0000ff"/>
<rect x="222.5" y="565.5" width="4.6" height="4.6" fill="#0000ff"/>
<rect x="263.0" y="588.4" width="4.6" height="4.6" fill="#0000ff"/>
<rect x="302.2" y="590.9" width="7.4" height="7.4" fill="#0000ff"/>
<rect x="344.1" y="597.7" width="4.6" height="4.6" fill="#0000ff"/>
<rect x="384.7" y="598.5" width="4.6" height="4.6" fill="#0000ff"/>
<rect x="425.2" y="599.5" width="4.6" height="4.6" fill="#0000ff"/>
<rect x="464.4" y="597.9" width="7.4" height="7.4" fill="#0000ff"/>
<path d="M143.7 533.6C147.1 533.4 157.2 532.7 164.0 532.2C170.8 531.7 178.7 531.1 184.2 530.4C189.8 529.7 192.6 528.9 197.2 528.0C201.8 527.1 207.4 525.3 212.0 525.3C216.6 525.3 219.4 527.1 224.8 528.0C230.2 528.9 237.7 529.2 244.5 530.7C251.3 532.2 258.5 535.0 265.3 537.1C272.2 539.2 278.6 542.0 285.4 543.4C292.2 544.8 300.2 545.6 305.9 545.2C311.6 544.8 315.1 542.2 319.6 541.2C324.1 540.2 328.2 538.9 332.7 539.2C337.2 539.6 341.0 542.1 346.4 543.3C351.9 544.4 358.6 545.5 365.4 546.1C372.2 546.8 381.3 546.9 387.0 547.2C392.7 547.5 395.3 547.2 399.6 547.7C403.9 548.2 408.0 549.6 412.7 550.0C417.4 550.4 422.9 550.6 427.5 550.1C432.2 549.6 435.9 547.9 440.5 546.9C445.1 545.9 450.6 545.5 455.2 544.4C459.8 543.3 465.9 541.0 468.1 540.3" stroke="#00ff00"/>
<circle cx="184.2" cy="530.4" r="2.4" fill="#00ff00"/>
<circle cx="224.8" cy="528.0" r="2.4" fill="#00ff00"/>
<circle cx="265.3" cy="537.1" r="2.4" fill="#00ff00"/>
<circle cx="305.9" cy="545.2" r="3.6" fill="#00ff00"/>
<circle cx="346.4" cy="543.3" r="2.4" fill="#00ff00"/>
<circle cx="387.0" cy="547.2" r="2.4" fill="#00ff00"/>
<circle cx="427.5" cy="550.1" r="2.4" fill="#00ff00"/>
<circle cx="468.1" cy="540.3" r="3.6" fill="#00ff00"/>
<path d="M143.7 533.6C147.1 534.0 157.2 534.9 164.0 535.7C170.8 536.5 174.1 537.3 184.2 538.4C194.4 539.5 214.8 541.6 224.8 542.3C234.8 543.0 239.8 542.2 244.5 542.4C249.2 542.6 249.2 542.7 252.7 543.5C256.2 544.3 259.9 546.2 265.3 547.0C270.8 547.8 278.6 548.1 285.4 548.5C292.2 548.9 300.2 548.5 305.9 549.3C311.6 550.1 315.1 551.8 319.6 553.4C324.1 555.0 328.2 557.5 332.7 559.1C337.2 560.7 342.1 562.3 346.4 563.2C350.8 564.1 354.3 564.6 358.8 564.5C363.3 564.4 368.8 563.1 373.5 562.4C378.2 561.6 382.6 560.8 387.0 560.0C391.4 559.2 395.3 557.8 399.6 557.6C403.9 557.4 408.0 557.6 412.7 559.0C417.4 560.4 423.7 563.9 427.5 566.2C431.4 568.5 432.6 570.2 435.6 573.0C438.6 575.8 441.9 579.9 445.4 582.8C448.9 585.7 453.0 588.4 456.8 590.2C460.6 592.0 466.2 592.9 468.1 593.4" stroke="#00ff00"/>
<circle cx="184.2" cy="538.4" r="2.4" fill="#00ff00"/>
<circle cx="224.8" cy="542.3" r="2.4" fill="#00ff00"/>
<circle cx="265.3" cy="547.0" r="2.4" fill="#00ff00"/>
<circle cx="305.9" cy="549.3" r="3.6" fill="#00ff00"/>
<circle cx="346.4" cy="563.2" r="2.4" fill="#00ff00"/>
<circle cx="387.0" cy="560.0" r="2.4" fill="#00ff00"/>
<circle cx="427.5" cy="566.2" r="2.4" fill="#00ff00"/>
<circle cx="468.1" cy="593.4" r="3.6" fill="#00ff00"/>
</g>
<g fill="#000" font-size="10.9" text-anchor="middle" stroke="#000" stroke-width="0.25">
<text x="117.3" y="537.2" textLength="25.9" lengthAdjust="spacingAndGlyphs">3000</text>
<text x="117.3" y="571.9" textLength="25.9" lengthAdjust="spacingAndGlyphs">1500</text>
<text x="117.3" y="594.8" textLength="19.2" lengthAdjust="spacingAndGlyphs">500</text>
<text x="495.2" y="537.2" textLength="25.6" lengthAdjust="spacingAndGlyphs">3000</text>
<text x="495.2" y="548.7" textLength="25.6" lengthAdjust="spacingAndGlyphs">2500</text>
<text x="495.2" y="560.3" textLength="25.6" lengthAdjust="spacingAndGlyphs">2000</text>
<text x="495.2" y="571.8" textLength="25.6" lengthAdjust="spacingAndGlyphs">1500</text>
<text x="495.2" y="583.3" textLength="25.6" lengthAdjust="spacingAndGlyphs">1000</text>
<text x="495.2" y="594.8" textLength="18.6" lengthAdjust="spacingAndGlyphs">500</text>
</g>
<g fill="#000" font-size="9.8" text-anchor="middle" stroke="#000" stroke-width="0.2">
<text x="185.1" y="616.8" textLength="11.8" lengthAdjust="spacingAndGlyphs">18</text>
<text x="225.6" y="616.8" textLength="11.8" lengthAdjust="spacingAndGlyphs">12</text>
<text x="266.1" y="616.8" textLength="11.8" lengthAdjust="spacingAndGlyphs">06</text>
<text x="306.7" y="616.8" textLength="11.8" lengthAdjust="spacingAndGlyphs">00</text>
<text x="347.2" y="616.8" textLength="11.8" lengthAdjust="spacingAndGlyphs">18</text>
<text x="387.8" y="616.8" textLength="11.8" lengthAdjust="spacingAndGlyphs">12</text>
<text x="428.3" y="616.8" textLength="11.8" lengthAdjust="spacingAndGlyphs">06</text>
<text x="468.9" y="616.8" textLength="11.8" lengthAdjust="spacingAndGlyphs">00</text>
<text x="306.4" y="626.9" textLength="25" lengthAdjust="spacingAndGlyphs">04/21</text>
<text x="468.4" y="626.9" textLength="25" lengthAdjust="spacingAndGlyphs">04/20</text>
</g>
<g stroke="#777" stroke-width="0.7">
<path d="M184.7 603V605.8"/>
<path d="M225.2 603V605.8"/>
<path d="M265.7 603V605.8"/>
<path d="M306.3 603V608.5"/>
<path d="M346.8 603V605.8"/>
<path d="M387.4 603V605.8"/>
<path d="M427.9 603V605.8"/>
<path d="M468.5 603V608.5"/>
</g>
<g fill="#000" stroke="#000" stroke-width="0.3">
<text transform="translate(86.6 432.9) rotate(-90)" font-size="12.8" textLength="43" lengthAdjust="spacingAndGlyphs">Source</text>
<text transform="translate(86.6 359) rotate(-90)" font-size="12.8" textLength="121.6" lengthAdjust="spacingAndGlyphs">at multiple locations</text>
<text transform="translate(88 384.1) rotate(-90)" font-size="15.6" stroke="none">★</text>
<text transform="translate(86.6 595.3) rotate(-90)" font-size="12.8" textLength="73.3" lengthAdjust="spacingAndGlyphs">Meters AGL</text>
</g>
</svg></body></html>
